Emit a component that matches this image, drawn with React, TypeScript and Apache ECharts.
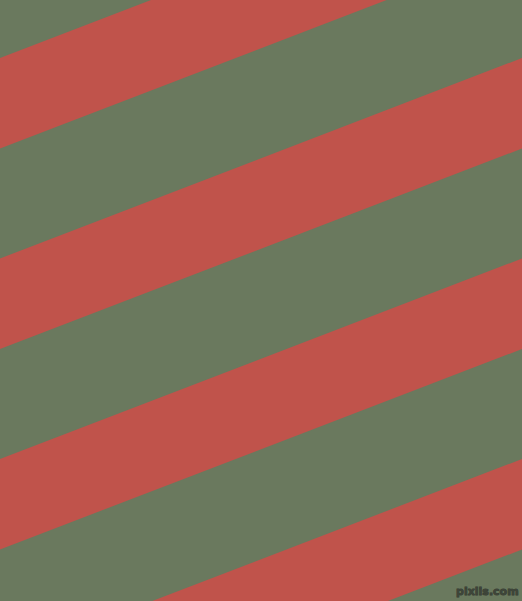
import React, { useEffect, useRef } from 'react';
import * as echarts from 'echarts';

// y of each red stripe's upper edge at the left border (x = 0)
const stripeTops = [-142, 58, 258.5, 459, 659.5];
const stripeThickness = [90.5, 90.5, 90.5, 90.5, 90.5];
const stripeRise = 200.5; // how much the stripe climbs across the full width
const width = 522;
const height = 601;

export default function App() {
    const chartRef = useRef<HTMLDivElement>(null);

    useEffect(() => {
        const chart = echarts.init(chartRef.current!, null, { renderer: 'svg' });

        chart.setOption({
            animation: false,
            backgroundColor: '#6a795e',
            grid: { left: 0, right: 0, top: 0, bottom: 0 },
            xAxis: { type: 'value', min: 0, max: width, show: false },
            yAxis: { type: 'value', min: 0, max: height, inverse: true, show: false },
            graphic: [
                {
                    type: 'text',
                    right: 3,
                    bottom: 4,
                    z: 100,
                    style: {
                        text: 'pixlis.com',
                        fill: '#3e4539',
                        stroke: '#353a31',
                        lineWidth: 0.8,
                        fontSize: 11,
                        fontWeight: 'bold',
                        fontFamily: 'DejaVu Sans',
                    },
                },
            ],
            series: [
                {
                    type: 'custom',
                    silent: true,
                    clip: true,
                    data: stripeTops.map((t, i) => [t, stripeThickness[i]]),
                    renderItem: (params: any, api: any) => {
                        const top = api.value(0);
                        const h = api.value(1);
                        const pts = [
                            api.coord([0, top]),
                            api.coord([width, top - stripeRise]),
                            api.coord([width, top - stripeRise + h]),
                            api.coord([0, top + h]),
                        ];
                        return {
                            type: 'polygon',
                            shape: { points: pts },
                            style: { fill: '#c0534b' },
                        };
                    },
                },
            ],
        });

        return () => {
            chart.dispose();
        };
    }, []);

    return (
        <div
            ref={chartRef}
            style={{ position: 'absolute', left: 0, top: 0, width, height }}
        />
    );
}
